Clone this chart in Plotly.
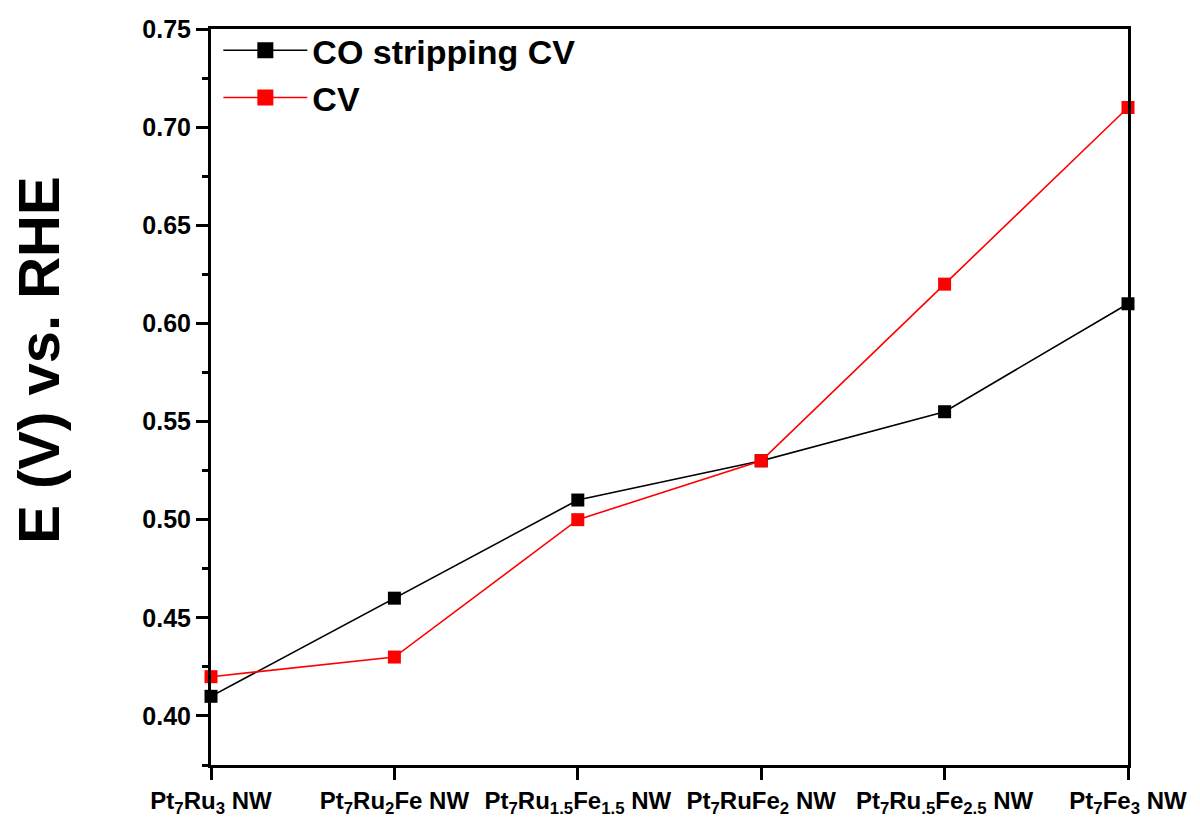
import plotly.graph_objects as go

categories = [
    "Pt<sub>7</sub>Ru<sub>3</sub> NW",
    "Pt<sub>7</sub>Ru<sub>2</sub>Fe NW",
    "Pt<sub>7</sub>Ru<sub>1.5</sub>Fe<sub>1.5</sub> NW",
    "Pt<sub>7</sub>RuFe<sub>2</sub> NW",
    "Pt<sub>7</sub>Ru<sub>.5</sub>Fe<sub>2.5</sub> NW",
    "Pt<sub>7</sub>Fe<sub>3</sub> NW",
]
co_stripping = [0.41, 0.46, 0.51, 0.53, 0.555, 0.61]
cv = [0.42, 0.43, 0.50, 0.53, 0.62, 0.71]
y_ticks = [0.40, 0.45, 0.50, 0.55, 0.60, 0.65, 0.70, 0.75]
y_minor = [0.375, 0.425, 0.475, 0.525, 0.575, 0.625, 0.675, 0.725]
series_names = ["CO stripping CV", "CV"]
series_colors = ["black", "#ff0000"]

x_idx = list(range(len(categories)))

FONT = "Liberation Sans, Arial, sans-serif"

fig = go.Figure()
for name, vals, col in zip(series_names, [co_stripping, cv], series_colors):
    fig.add_trace(go.Scatter(
        x=x_idx, y=vals, mode="lines+markers", name=name, showlegend=False,
        line=dict(color=col, width=1.6),
        marker=dict(symbol="square", size=13, color=col),
        cliponaxis=False,
    ))
# legend entries (larger symbols, as in the reference legend)
for name, col in zip(series_names, series_colors):
    fig.add_trace(go.Scatter(
        x=[None], y=[None], mode="lines+markers", name=name, showlegend=True,
        line=dict(color=col, width=1.6),
        marker=dict(symbol="square", size=17, color=col),
    ))

fig.update_layout(
    width=1200, height=820,
    margin=dict(l=211, r=72, t=29, b=55, autoexpand=False),
    paper_bgcolor="white", plot_bgcolor="white",
    font=dict(family=FONT, color="black", weight="bold"),
    showlegend=True,
    legend=dict(
        x=0.008, y=1.01, xanchor="left", yanchor="top",
        font=dict(size=34, family=FONT, weight="bold"),
        bgcolor="rgba(0,0,0,0)", itemwidth=84, tracegroupgap=0,
    ),
    xaxis=dict(
        range=[0, 5], tickmode="array", tickvals=x_idx, ticktext=categories,
        showgrid=False, zeroline=False, automargin=False,
        showline=True, linecolor="black", linewidth=3, mirror=True,
        ticks="outside", ticklen=12, tickwidth=3, tickcolor="black",
        tickfont=dict(size=24, family=FONT, weight="bold"),
    ),
    yaxis=dict(
        range=[0.375, 0.75], tickmode="array", tickvals=y_ticks,
        ticktext=[f"{v:.2f}" for v in y_ticks],
        showgrid=False, zeroline=False, automargin=False,
        showline=True, linecolor="black", linewidth=3, mirror=True,
        ticks="outside", ticklen=12, tickwidth=3, tickcolor="black",
        tickfont=dict(size=25, family=FONT, weight="bold"),
        minor=dict(ticks="outside", ticklen=6, tickwidth=3, tickcolor="black",
                   tickvals=y_minor, showgrid=False),
    ),
    annotations=[dict(
        text="E (V) vs. RHE", textangle=-90, showarrow=False,
        xref="paper", yref="paper", x=-0.188, y=0.55,
        xanchor="center", yanchor="middle",
        font=dict(size=58, family=FONT, weight="bold", color="black"),
    )],
)

fig.write_html("out.html")
